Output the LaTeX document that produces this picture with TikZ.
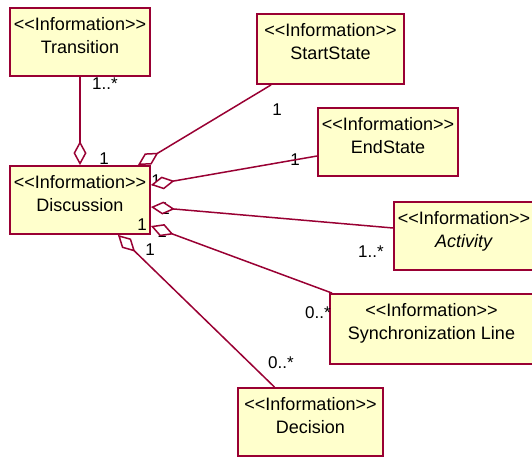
\documentclass[tikz,border=0pt]{standalone}
\usepackage{fontspec}
\setmainfont{Liberation Sans}[Ligatures=TeXOff]
\usetikzlibrary{positioning, arrows.meta}
\definecolor{umlred}{RGB}{153,0,51}
\definecolor{umlfill}{RGB}{255,255,204}

\begin{document}
\begin{tikzpicture}[x=1pt, y=-1pt,
	box/.style={draw=umlred, fill=umlfill, line width=1.8pt, minimum width=140pt, minimum height=68pt, inner sep=0pt},
	info/.style={inner sep=0pt, align=center, font=\fontsize{18}{23}\selectfont},
	mult/.style={inner sep=0pt, font=\fontsize{17}{20}\selectfont},
	agg/.style={draw=umlred, line width=1.5pt, -{Diamond[fill=white, length=24pt, width=13pt]}}]
		
		\useasboundingbox (0,0) rectangle (532,457);
		\clip (0,0) rectangle (532,457);
		
		\node[box] (1) at (80,42) {};
		\node[box] (2) at (80,200) {};
		\node[box, minimum width=147pt, minimum height=70pt] (3) at (330.5,49) {};
		\node[box] (4) at (388,142) {};
		\node[box] (5) at (464,236) {};
		\node[box, minimum width=203pt, minimum height=70pt] (6) at (431.5,329) {};
		\node[box, minimum width=145pt] (7) at (310.5,422) {};
		
		\node[info, below=10pt of 1.north] (1t) {<<Information>>\\Transition};
		\node[info, below=10pt of 2.north] (2t) {<<Information>>\\Discussion};
		\node[info, below=10pt of 3.north] (3t) {<<Information>>\\StartState};
		\node[info, below=10pt of 4.north] (4t) {<<Information>>\\EndState};
		\node[info, below=10pt of 5.north] (5t) {<<Information>>\\\textit{Activity}};
		\node[info, below=10pt of 6.north] (6t) {<<Information>>\\Synchronization Line};
		\node[info, below=10pt of 7.north] (7t) {<<Information>>\\Decision};
		
		\node[mult] (m1) at (105,84) {1..*};
		\node[mult] (m2) at (104,159) {1};
		\node[mult] (m3) at (277,110) {1};
		\node[mult] (m4) at (295,160) {1};
		\node[mult] (m5) at (156,181) {1};
		\node[mult] (m6) at (165,209) {1};
		\node[mult] (m7) at (142,225) {1};
		\node[mult] (m8) at (162,232) {1};
		\node[mult] (m9) at (150,250) {1};
		\node[mult] (m10) at (371,252) {1..*};
		\node[mult] (m11) at (318,313) {0..*};
		\node[mult] (m12) at (281,363) {0..*};
		
		\path
		(1) edge [agg] (2)
		([xshift=15pt]3.south west) edge [agg] ([xshift=-13pt]2.north east)
		([yshift=-14pt]4.west) edge [agg] ([yshift=15pt]2.east)
		([yshift=8pt]5.west) edge [agg] ([yshift=-7pt]2.east)
		([xshift=3pt]6.north west) edge [agg] ([yshift=-26pt]2.east)
		([xshift=-36pt]7.north) edge [agg] ([xshift=-33pt]2.south east);
		
		\end{tikzpicture}
\end{document}
